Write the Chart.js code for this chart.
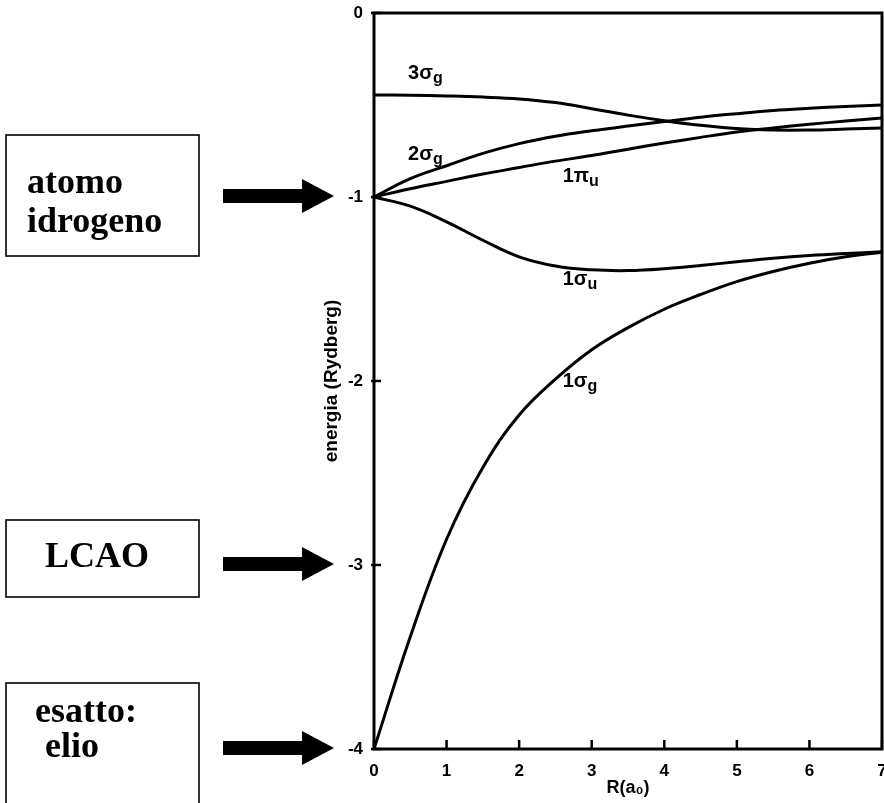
<!DOCTYPE html>
<html>
<head>
<meta charset="utf-8">
<script src="https://cdn.jsdelivr.net/npm/chart.js@4.4.1/dist/chart.umd.min.js"></script>
<style>
	html, body { margin: 0; padding: 0; background: #fff; }
	#wrap { width: 884px; height: 803px; }
</style>
</head>
<body>
<div id="wrap"><canvas id="myChart"></canvas></div>
<script>
'use strict';

// internuclear distance R (a0)
const rValues = [0, 0.5, 1, 1.5, 2, 2.5, 3, 3.5, 4, 4.5, 5, 5.5, 6, 6.5, 7];

// orbital energies (Rydberg)
const sigma3g = [-0.446, -0.447, -0.451, -0.457, -0.467, -0.487, -0.52, -0.555, -0.585, -0.61, -0.628, -0.636, -0.636, -0.631, -0.625];
const sigma2g = [-1, -0.9, -0.83, -0.763, -0.71, -0.67, -0.64, -0.614, -0.59, -0.566, -0.547, -0.53, -0.518, -0.508, -0.5];
const pi1u = [-1, -0.955, -0.915, -0.875, -0.84, -0.805, -0.775, -0.74, -0.707, -0.676, -0.647, -0.625, -0.605, -0.587, -0.57];
const sigma1u = [-1, -1.05, -1.135, -1.235, -1.325, -1.375, -1.396, -1.4, -1.39, -1.372, -1.352, -1.333, -1.318, -1.307, -1.298];
const sigma1g = [-4, -3.39, -2.86, -2.47, -2.185, -1.99, -1.83, -1.71, -1.61, -1.53, -1.46, -1.405, -1.36, -1.325, -1.3];

const xTicks = [0, 1, 2, 3, 4, 5, 6, 7];
const yTicks = [0, -1, -2, -3, -4];

// reference levels marked by the arrows
const arrowLevels = [-1, -3, -4];

const toPoints = values => values.map((v, i) => ({ x: rValues[i], y: v }));

const curveLabels = [
	{ main: '3σ', sub: 'g', r: 0.47, e: -0.36 },
	{ main: '2σ', sub: 'g', r: 0.47, e: -0.8 },
	{ main: '1π', sub: 'u', r: 2.6, e: -0.92 },
	{ main: '1σ', sub: 'u', r: 2.6, e: -1.48 },
	{ main: '1σ', sub: 'g', r: 2.6, e: -2.03 },
];

const boxes = [
	{ x: 6, y: 135, w: 193, h: 121, lines: [['atomo', 27, 193], ['idrogeno', 27, 232]] },
	{ x: 6, y: 520, w: 193, h: 77, lines: [['LCAO', 45, 567]] },
	{ x: 6, y: 683, w: 193, h: 130, lines: [['esatto:', 35, 722], ['elio', 45, 757]] },
];

const sans = "'Liberation Sans', Arial, sans-serif";

const decorations = {
	id: 'decorations',
	afterDraw(chart) {
		const { ctx, chartArea: a, scales: { x, y } } = chart;
		ctx.save();
		ctx.strokeStyle = '#000';
		ctx.fillStyle = '#000';

		// frame
		ctx.lineWidth = 3;
		ctx.strokeRect(a.left, a.top, a.right - a.left, a.bottom - a.top);

		// inner tick marks
		ctx.lineWidth = 2.5;
		yTicks.forEach(v => {
			const py = y.getPixelForValue(v);
			ctx.beginPath();
			ctx.moveTo(a.left - 3, py);
			ctx.lineTo(a.left + 7, py);
			ctx.stroke();
		});
		xTicks.forEach(v => {
			const px = x.getPixelForValue(v);
			ctx.beginPath();
			ctx.moveTo(px, a.bottom);
			ctx.lineTo(px, a.bottom - 9);
			ctx.stroke();
		});

		// orbital labels
		ctx.textBaseline = 'alphabetic';
		ctx.textAlign = 'left';
		curveLabels.forEach(l => {
			const px = x.getPixelForValue(l.r);
			const py = y.getPixelForValue(l.e);
			ctx.font = 'bold 20px ' + sans;
			ctx.fillText(l.main, px, py);
			const w = ctx.measureText(l.main).width;
			ctx.font = 'bold 16px ' + sans;
			ctx.fillText(l.sub, px + w, py + 4);
		});

		// boxes on the left
		ctx.lineWidth = 1.6;
		ctx.font = "bold 36px 'Liberation Serif', 'Times New Roman', serif";
		boxes.forEach(b => {
			ctx.strokeRect(b.x, b.y, b.w, b.h);
			b.lines.forEach(([t, tx, ty]) => ctx.fillText(t, tx, ty));
		});

		// arrows
		arrowLevels.forEach(v => {
			const py = y.getPixelForValue(v) - 1;
			ctx.beginPath();
			ctx.moveTo(223, py - 7);
			ctx.lineTo(302, py - 7);
			ctx.lineTo(302, py - 17);
			ctx.lineTo(334, py);
			ctx.lineTo(302, py + 17);
			ctx.lineTo(302, py + 7);
			ctx.lineTo(223, py + 7);
			ctx.closePath();
			ctx.fill();
		});

		ctx.restore();
	},
};

const line = values => ({
	data: toPoints(values),
	borderColor: '#000',
	borderWidth: 3,
	pointRadius: 0,
	tension: 0.4,
	fill: false,
});

const ctx = document.getElementById('myChart').getContext('2d');

const myChart = new Chart(ctx, {
	type: 'line',
	data: {
		datasets: [line(sigma3g), line(sigma2g), line(pi1u), line(sigma1u), line(sigma1g)],
	},
	options: {
		responsive: true,
		maintainAspectRatio: false,
		animation: false,
		events: [],
		layout: { padding: { top: 13, right: 2, left: 0, bottom: 0 } },
		plugins: {
			legend: { display: false },
			tooltip: { enabled: false },
		},
		scales: {
			x: {
				type: 'linear',
				min: 0,
				max: 7,
				afterBuildTicks: axis => { axis.ticks = xTicks.map(v => ({ value: v })); },
				afterFit: axis => { axis.height = 54; axis.paddingLeft = 0; axis.paddingRight = 0; },
				grid: { display: false },
				border: { display: false },
				ticks: {
					color: '#000',
					padding: 4,
					maxRotation: 0,
					font: { family: sans, size: 17, weight: 'bold' },
				},
				title: {
					display: true,
					text: 'R(a₀)',
					color: '#000',
					padding: { top: 0, bottom: 4 },
					font: { family: sans, size: 18, weight: 'bold' },
				},
			},
			y: {
				min: -4,
				max: 0,
				afterBuildTicks: axis => { axis.ticks = yTicks.map(v => ({ value: v })); },
				afterFit: axis => { axis.width = 374; axis.paddingTop = 0; axis.paddingBottom = 0; },
				grid: { display: false },
				border: { display: false },
				ticks: {
					color: '#000',
					padding: 3,
					font: { family: sans, size: 17, weight: 'bold' },
				},
				title: {
					display: true,
					text: 'energia (Rydberg)',
					color: '#000',
					padding: { top: 320, bottom: 0 },
					font: { family: sans, size: 19, weight: 'bold' },
				},
			},
		},
	},
	plugins: [decorations],
});
</script>
</body>
</html>
